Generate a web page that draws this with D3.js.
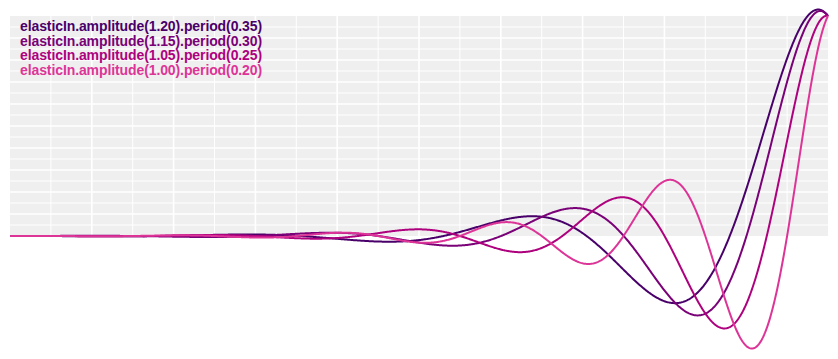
<!DOCTYPE html>
<html>
<head>
<meta charset="utf-8">
<script src="https://cdn.jsdelivr.net/npm/d3@7"></script>
<style>
  body { margin: 0; background: #fff; }
  text { font-family: "Liberation Sans", Arial, Helvetica, sans-serif; font-weight: bold; }
</style>
</head>
<body>
<svg id="chart" width="838" height="359"></svg>
<script>
// Curve parameters
const amplitudes = [1.20, 1.15, 1.05, 1.00];
const periods    = [0.35, 0.30, 0.25, 0.20];
const colors     = ["#49006a", "#7a0177", "#ae017e", "#dd3497"];
const labels     = ["elasticIn.amplitude(1.20).period(0.35)",
                    "elasticIn.amplitude(1.15).period(0.30)",
                    "elasticIn.amplitude(1.05).period(0.25)",
                    "elasticIn.amplitude(1.00).period(0.20)"];
const gridTicks  = d3.range(1, 20).map(i => i / 20);

const svg = d3.select("#chart");
const x = d3.scaleLinear().domain([0, 1]).range([10, 828]);
const y = d3.scaleLinear().domain([0, 1]).range([236, 16]);

svg.append("rect")
  .attr("x", x(0)).attr("y", y(1))
  .attr("width", x(1) - x(0)).attr("height", y(0) - y(1))
  .attr("fill", "#efefef");

const grid = svg.append("g");
grid.selectAll(".vx").data(gridTicks).join("line")
  .attr("x1", d => x(d)).attr("x2", d => x(d))
  .attr("y1", y(1)).attr("y2", y(0))
  .attr("stroke", "#fff")
  .attr("stroke-width", (d, i) => i % 2 === 1 ? 1.6 : 1);
grid.selectAll(".hy").data(gridTicks).join("line")
  .attr("y1", d => y(d)).attr("y2", d => y(d))
  .attr("x1", x(0)).attr("x2", x(1))
  .attr("stroke", "#fff")
  .attr("stroke-width", (d, i) => i % 2 === 1 ? 1.6 : 1);

const ts = d3.range(0, 1.0000001, 0.001);
const line = d3.line().x(d => x(d[0])).y(d => y(d[1])).curve(d3.curveLinear);

amplitudes.forEach((a, i) => {
  const ease = d3.easeElasticIn.amplitude(a).period(periods[i]);
  svg.append("path")
    .datum(ts.map(t => [t, ease(t)]))
    .attr("d", line)
    .attr("fill", "none")
    .attr("stroke", colors[i])
    .attr("stroke-width", 2);
});

svg.append("g").selectAll("text").data(labels).join("text")
  .attr("x", 20)
  .attr("y", (d, i) => 31 + i * 14.7)
  .attr("fill", (d, i) => colors[i])
  .attr("font-size", 14)
  .attr("letter-spacing", -0.1)
  .text(d => d);
</script>
</body>
</html>
